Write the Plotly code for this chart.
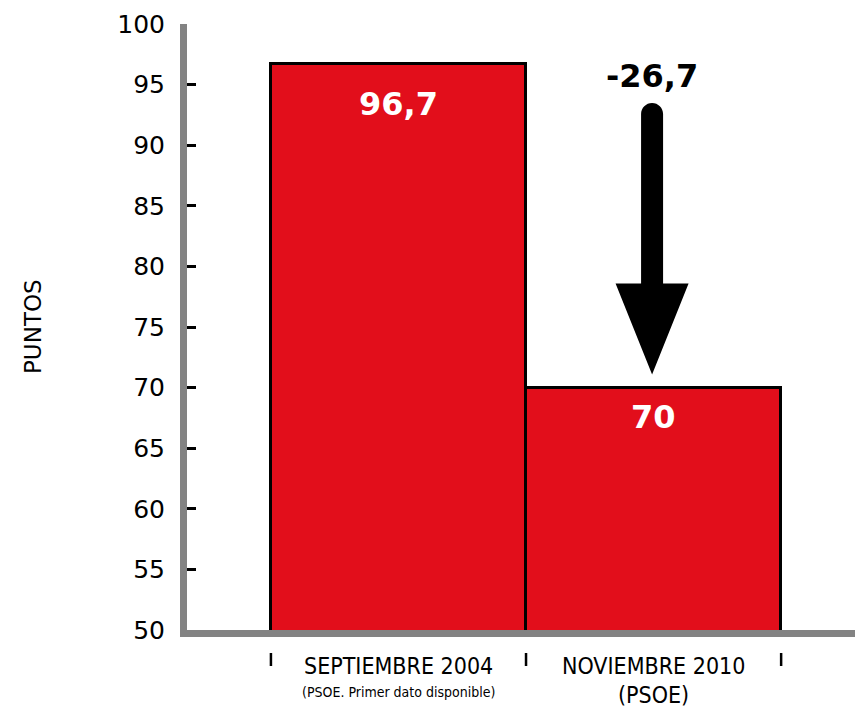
import plotly.graph_objects as go

# ---- data ----
categories = ["SEPTIEMBRE 2004", "NOVIEMBRE 2010"]
subtitles = ["(PSOE. Primer dato disponible)", "(PSOE)"]
values = [96.7, 70.0]
y_ticks = [50, 55, 60, 65, 70, 75, 80, 85, 90, 95, 100]
y_title = "PUNTOS"

# ---- style ----
RED = "#E20E1B"
GREY = "#838383"
W, H = 870, 699          # page adds an 8px body margin; extra width is clipped
M = dict(l=179, r=0, t=16, b=77)
PX_PER_CAT = 255.1
x_left = -0.829
y_range = [50, 100]
plot_w = W - M["l"] - M["r"]
plot_h = H - M["t"] - M["b"]
x_range = [x_left, x_left + plot_w / PX_PER_CAT]
px_x = PX_PER_CAT
px_y = plot_h / (y_range[1] - y_range[0])   # pixels per y unit

x_pos = list(range(len(categories)))

fig = go.Figure()
fig.add_trace(go.Bar(
    x=x_pos, y=values, width=1,
    marker=dict(color=RED, line=dict(color="black", width=3)),
    hoverinfo="skip", showlegend=False,
))

def fmt(v):
    s = f"{v:.1f}".rstrip("0").rstrip(".")
    return s.replace(".", ",")

annotations = []
label_shift = [-40, -29]
for i, v in enumerate(values):
    annotations.append(dict(
        x=x_pos[i], y=v, xref="x", yref="y", text=f"<b>{fmt(v)}</b>",
        showarrow=False, yanchor="middle", yshift=label_shift[i],
        font=dict(family="DejaVu Sans", size=32, color="white"),
    ))

# category labels
sub_sizes = [14, 23]
sub_shift = [-62, -65]
for i, c in enumerate(categories):
    annotations.append(dict(
        x=x_pos[i], y=0, xref="x", yref="paper", text=c, showarrow=False,
        yanchor="middle", yshift=-36,
        font=dict(family="DejaVu Sans Condensed", size=23, color="black"),
    ))
    annotations.append(dict(
        x=x_pos[i], y=0, xref="x", yref="paper", text=subtitles[i], showarrow=False,
        yanchor="middle", yshift=sub_shift[i],
        font=dict(family="DejaVu Sans Condensed", size=sub_sizes[i], color="black"),
    ))

# y axis title
annotations.append(dict(
    x=0, y=0.5, xref="paper", yref="paper", text=y_title, showarrow=False,
    textangle=-90, xanchor="center", yanchor="middle", xshift=-154,
    font=dict(family="DejaVu Sans", size=23, color="black"),
))

# arrow showing the change
diff = values[1] - values[0]
ax_c = x_pos[1] - 1.5 / px_x
tip = values[1] + 13 / px_y
head_base = tip + 91 / px_y
shaft_top = y_range[1] - 79 / px_y
hw = 11 / px_x      # shaft half width
hh = 36.5 / px_x    # head half width
r_y = 11 / px_y
k = 0.5523
path = (
    f"M {ax_c - hh},{head_base} L {ax_c},{tip} L {ax_c + hh},{head_base} "
    f"L {ax_c + hw},{head_base} L {ax_c + hw},{shaft_top - r_y} "
    f"C {ax_c + hw},{shaft_top - r_y + k * r_y} {ax_c + k * hw},{shaft_top} {ax_c},{shaft_top} "
    f"C {ax_c - k * hw},{shaft_top} {ax_c - hw},{shaft_top - r_y + k * r_y} {ax_c - hw},{shaft_top - r_y} "
    f"L {ax_c - hw},{head_base} Z"
)
shapes = [dict(type="path", path=path, xref="x", yref="y",
               fillcolor="black", line=dict(width=0))]

annotations.append(dict(
    x=ax_c, y=shaft_top, xref="x", yref="y", text=f"<b>{fmt(diff)}</b>",
    showarrow=False, yanchor="middle", yshift=27,
    font=dict(family="DejaVu Sans", size=32, color="black"),
))

# x tick marks at category boundaries
for b in [p - 0.5 for p in x_pos] + [x_pos[-1] + 0.5]:
    shapes.append(dict(type="line", xref="x", yref="paper", x0=b, x1=b,
                       y0=-23 / plot_h, y1=-36 / plot_h,
                       line=dict(color="black", width=2.5)))

fig.update_layout(
    width=W, height=H, margin=M,
    paper_bgcolor="white", plot_bgcolor="white",
    bargap=0, showlegend=False,
    annotations=annotations, shapes=shapes,
    xaxis=dict(range=x_range, showgrid=False, zeroline=False,
               showticklabels=False, ticks="",
               showline=True, linecolor=GREY, linewidth=7, fixedrange=True),
    yaxis=dict(range=y_range, tickvals=y_ticks, showgrid=False, zeroline=False,
               ticks="inside", ticklen=9, tickwidth=2.5, tickcolor="black",
               showline=True, linecolor=GREY, linewidth=7,
               tickfont=dict(family="DejaVu Sans", size=25, color="black"),
               ticklabelstandoff=10, fixedrange=True),
)

fig.write_html("out.html")
